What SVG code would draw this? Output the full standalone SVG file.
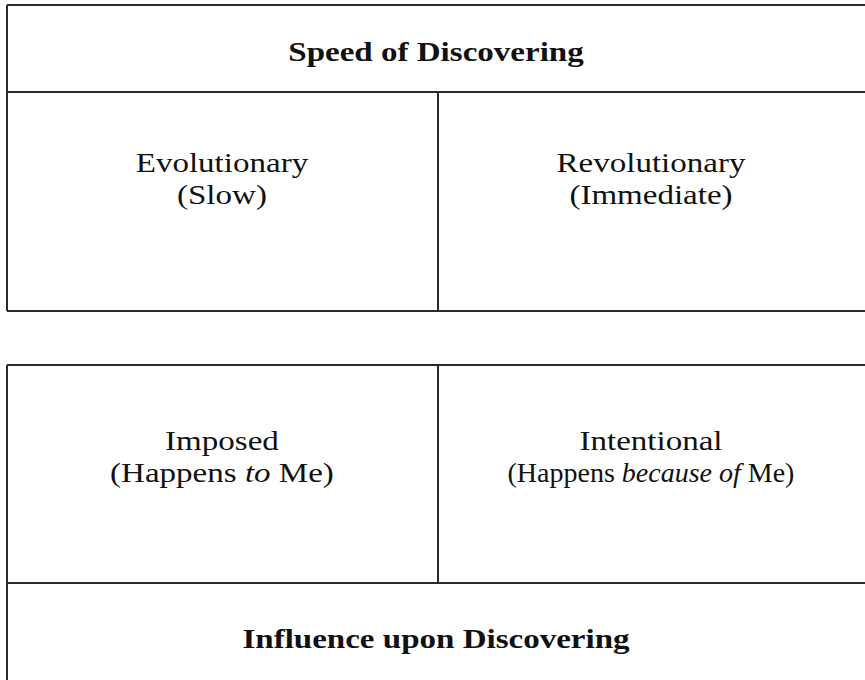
<svg xmlns="http://www.w3.org/2000/svg" width="865" height="680" viewBox="0 0 865 680">
<style>
.ln{stroke:#2a2a2a;stroke-width:2;fill:none}
.t{font-family:"Liberation Serif","Times New Roman",serif;font-size:28px;fill:#111;text-anchor:middle}
.b{font-weight:bold}
</style>
<rect width="865" height="680" fill="#fff"/>
<g id="connectors">
<path class="ln" d="M7,5 H865 M7,92 H865 M7,311 H865 M7,5 V311 M438,92 V311"/>
<path class="ln" d="M7,365 H865 M7,583 H865 M7,365 V680 M438,365 V583"/>
</g>
<g transform="scale(1.18,1)">
<g id="speed"><text class="t b" x="369.5" y="61">Speed of Discovering</text></g>
<g id="evolutionary"><text class="t" x="188.1" y="172">Evolutionary</text><text class="t" x="188.1" y="204">(Slow)</text></g>
<g id="revolutionary"><text class="t" x="551.7" y="172">Revolutionary</text><text class="t" x="551.7" y="204">(Immediate)</text></g>
<g id="imposed"><text class="t" x="188.1" y="450">Imposed</text><text class="t" x="188.1" y="482">(Happens <tspan font-style="italic">to</tspan> Me)</text></g>
<g id="intentional"><text class="t" x="551.7" y="450">Intentional</text></g>
<g id="influence"><text class="t b" x="369.5" y="648">Influence upon Discovering</text></g>
</g>
<g id="intentional-sub"><text class="t" x="651" y="482">(Happens <tspan font-style="italic">because of</tspan> Me)</text></g>
</svg>
